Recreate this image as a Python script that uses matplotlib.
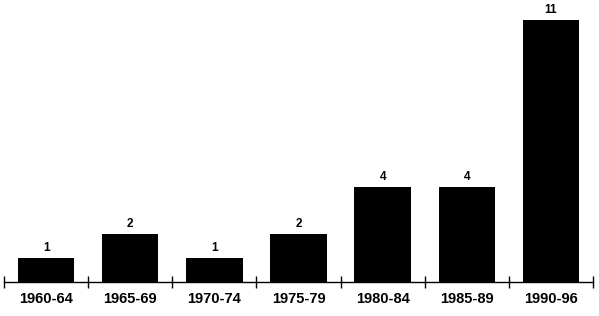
import numpy as np
import matplotlib.pyplot as plt

periods = ['1960-64', '1965-69', '1970-74', '1975-79', '1980-84', '1985-89', '1990-96']
counts = [1, 2, 1, 2, 4, 4, 11]

plt.rcParams['font.family'] = ['Liberation Sans', 'DejaVu Sans']

fig = plt.figure(figsize=(5.99, 3.16), dpi=100)
ax = fig.add_axes([4 / 599, 34 / 316, 589 / 599, 282 / 316])

x = np.arange(len(periods))
ax.bar(x, counts, width=0.67, color='black')

# value labels above bars
for xi, c in zip(x, counts):
    ax.text(xi, c + 0.18, str(c), ha='center', va='bottom', fontsize=8.5, fontweight='bold')

ax.set_xlim(-0.5, len(periods) - 0.5)
ax.set_ylim(0, 11.85)

# ticks at category boundaries, labels centered under bars
ax.set_xticks(np.arange(-0.5, len(periods), 1.0))
ax.set_xticklabels([])
ax.set_xticks(x, minor=True)
ax.set_xticklabels(periods, minor=True, fontsize=10.5, fontweight='bold')
ax.tick_params(axis='x', which='major', direction='inout', length=8, width=1, color='black')
ax.tick_params(axis='x', which='minor', length=0, pad=7)
ax.set_yticks([])

for s in ['top', 'left', 'right']:
    ax.spines[s].set_visible(False)
ax.spines['bottom'].set_linewidth(1)

fig.savefig('out.png', dpi=100)
